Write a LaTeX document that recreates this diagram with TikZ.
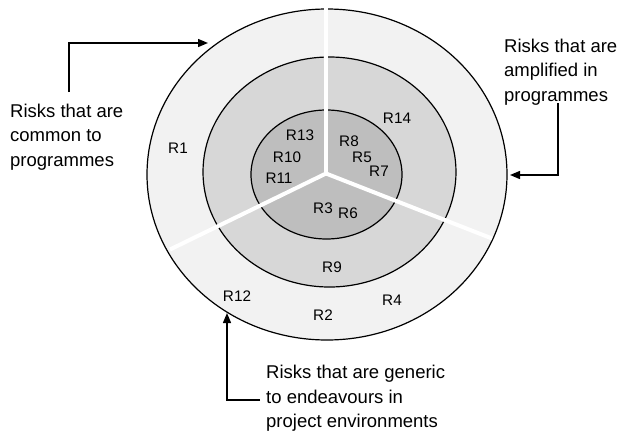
\documentclass[tikz,border=0pt]{standalone}
\usepackage{fontspec}
\setmainfont{Liberation Sans}
\usetikzlibrary{arrows.meta}
\definecolor{ringA}{HTML}{F2F2F2}
\definecolor{ringB}{HTML}{D7D7D7}
\definecolor{ringC}{HTML}{BEBEBE}
\begin{document}
\begin{tikzpicture}[x=1pt,y=-1pt,
  ring/.style={draw=black,line width=1.2pt},
  sep/.style={draw=white,line width=4pt},
  rlabel/.style={inner sep=0pt,font=\fontsize{15.3}{18}\selectfont},
  note/.style={inner sep=0pt,anchor=north west,align=left,font=\fontsize{18.5}{24.5}\selectfont},
  pointer/.style={line width=1.4pt,-{Triangle[length=10pt,width=8pt]}}]
\useasboundingbox (0,0) rectangle (619,432);
% rings
\draw[ring,fill=ringA] (327,174.5) ellipse [x radius=180pt, y radius=165.5pt];
\draw[ring,fill=ringB] (329.5,172) ellipse [x radius=126.5pt, y radius=115pt];
\draw[ring,fill=ringC] (326.5,174.5) ellipse [x radius=75.5pt, y radius=64.5pt];
% separators
\coordinate (c) at (326,173.5);
\coordinate (sTop) at (326,7);
\coordinate (sRight) at (492,238.5);
\coordinate (sLeft) at (170,249.5);
\draw[sep] (c) -- (sTop);
\draw[sep] (c) -- (sRight);
\draw[sep] (c) -- (sLeft);
% risk labels
\node[rlabel] (r1) at (178,148) {R1};
\node[rlabel] (r13) at (300,135) {R13};
\node[rlabel] (r10) at (287,157) {R10};
\node[rlabel] (r11) at (279,178) {R11};
\node[rlabel] (r8) at (349,141) {R8};
\node[rlabel] (r5) at (362,157) {R5};
\node[rlabel] (r7) at (379,171) {R7};
\node[rlabel] (r14) at (397,118) {R14};
\node[rlabel] (r3) at (323,208) {R3};
\node[rlabel] (r6) at (348,213) {R6};
\node[rlabel] (r9) at (332,267) {R9};
\node[rlabel] (r12) at (237,296) {R12};
\node[rlabel] (r2) at (323,315) {R2};
\node[rlabel] (r4) at (392,300) {R4};
% notes
\node[note] (nCommon) at (10,103.5) {Risks that are\\common to\\programmes};
\node[note] (nAmpl) at (504,38.5) {Risks that are\\amplified in\\programmes};
\node[note] (nGen) at (266,365) {Risks that are generic\\to endeavours in\\project environments};
% pointers
\coordinate (pA) at (69,92);
\coordinate (pAe) at (208,43);
\coordinate (pB) at (558,103);
\coordinate (pBe) at (510,175);
\coordinate (pC) at (260,400);
\coordinate (pCe) at (227,313);
\draw[pointer] (pA) |- (pAe);
\draw[pointer] (pB) |- (pBe);
\draw[pointer] (pC) -| (pCe);
\end{tikzpicture}
\end{document}
